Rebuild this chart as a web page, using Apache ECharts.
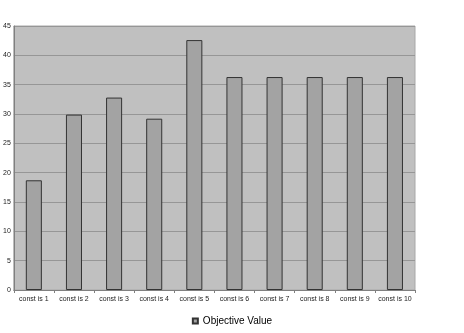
<!DOCTYPE html>
<html><head><meta charset="utf-8">
<script src="https://cdn.jsdelivr.net/npm/echarts@6/dist/echarts.min.js"></script>
<style>html,body{margin:0;padding:0;background:#fff}#c{width:464px;height:333px}</style>
</head><body><div id="c"></div>
<script>
var categories = ["const is 1","const is 2","const is 3","const is 4","const is 5","const is 6","const is 7","const is 8","const is 9","const is 10"];
var objectiveValues = [18.7, 29.9, 32.8, 29.2, 42.6, 36.3, 36.3, 36.3, 36.3, 36.3];
var seriesName = "Objective Value";
var chart = echarts.init(document.getElementById('c'));
chart.setOption({
  animation: false,
  textStyle: {fontFamily: 'Liberation Sans, Arial, sans-serif'},
  grid: {left: 13, right: 49, top: 26, bottom: 43, containLabel: false,
         show: true, backgroundColor: '#c0c0c0', borderColor: '#a8a8a8', borderWidth: 1},
  legend: {bottom: 2, left: 'center', itemWidth: 5, itemHeight: 5, icon: 'rect', itemGap: 4,
           data: [seriesName],
           textStyle: {fontSize: 10, color: '#000'}},
  xAxis: {type: 'category', data: categories,
          axisLine: {lineStyle: {color: '#808080'}},
          axisTick: {show: true, length: 3, lineStyle: {color: '#808080'}},
          axisLabel: {fontSize: 7, color: '#222', margin: 6, interval: 0}},
  yAxis: {type: 'value', min: 0, max: 45, interval: 5,
          axisLine: {show: true, lineStyle: {color: '#808080'}},
          axisTick: {show: false},
          axisLabel: {fontSize: 7, color: '#222', margin: 3},
          splitLine: {lineStyle: {color: '#969696', width: 1}}},
  series: [{type: 'bar', name: seriesName, data: objectiveValues, barWidth: '40%',
            itemStyle: {color: '#a3a3a3', borderColor: '#333', borderWidth: 1}}]
});
</script></body></html>
